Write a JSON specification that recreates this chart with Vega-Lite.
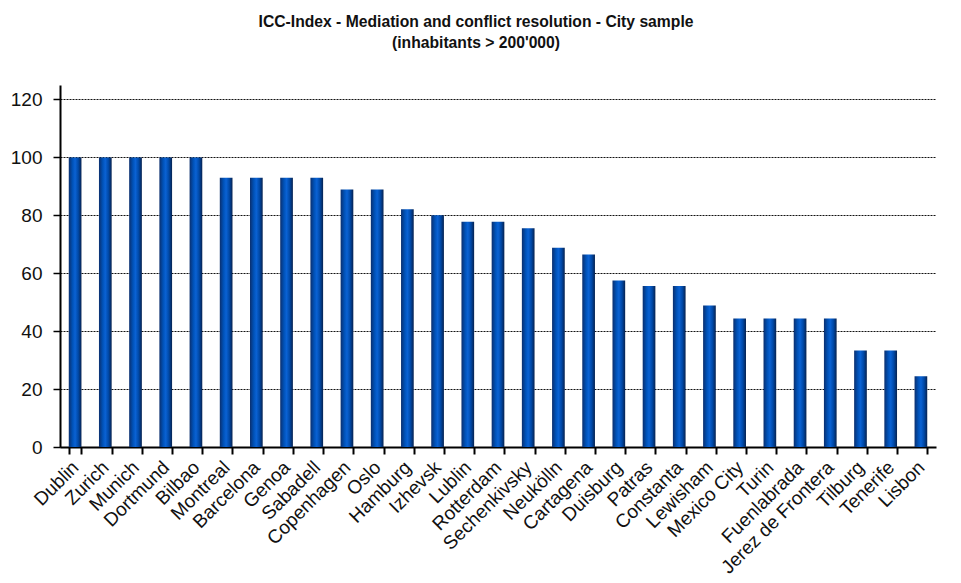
{
  "$schema": "https://vega.github.io/schema/vega-lite/v6.json",
  "autosize": "none",
  "width": 876,
  "height": 362,
  "padding": {"left": 60, "top": 85, "right": 25, "bottom": 136},
  "background": "white",
  "title": {
    "text": ["ICC-Index - Mediation and conflict resolution - City sample", "(inhabitants > 200'000)"],
    "font": "Liberation Sans",
    "fontSize": 15.7,
    "fontWeight": "bold",
    "color": "#111111",
    "anchor": "middle",
    "dx": -22,
    "offset": 33,
    "lineHeight": 21
  },
  "data": {
    "values": [
      {"city": "Dublin", "value": 100},
      {"city": "Zurich", "value": 100},
      {"city": "Munich", "value": 100},
      {"city": "Dortmund", "value": 100},
      {"city": "Bilbao", "value": 100},
      {"city": "Montreal", "value": 93},
      {"city": "Barcelona", "value": 93},
      {"city": "Genoa", "value": 93},
      {"city": "Sabadell", "value": 93},
      {"city": "Copenhagen", "value": 88.9},
      {"city": "Oslo", "value": 88.9},
      {"city": "Hamburg", "value": 82.1},
      {"city": "Izhevsk", "value": 80},
      {"city": "Lublin", "value": 77.8},
      {"city": "Rotterdam", "value": 77.8},
      {"city": "Sechenkivsky", "value": 75.5},
      {"city": "Neukölln", "value": 68.8},
      {"city": "Cartagena", "value": 66.5},
      {"city": "Duisburg", "value": 57.5},
      {"city": "Patras", "value": 55.6},
      {"city": "Constanta", "value": 55.6},
      {"city": "Lewisham", "value": 48.9},
      {"city": "Mexico City", "value": 44.4},
      {"city": "Turin", "value": 44.4},
      {"city": "Fuenlabrada", "value": 44.4},
      {"city": "Jerez de Frontera", "value": 44.4},
      {"city": "Tilburg", "value": 33.3},
      {"city": "Tenerife", "value": 33.3},
      {"city": "Lisbon", "value": 24.4}
    ]
  },
  "mark": {
    "type": "bar",
    "color": {
      "gradient": "linear",
      "x1": 0, "x2": 1, "y1": 0, "y2": 0,
      "stops": [
        {"offset": 0, "color": "#0b2f6e"},
        {"offset": 0.3, "color": "#0052b8"},
        {"offset": 0.5, "color": "#0a62d4"},
        {"offset": 0.75, "color": "#0048a6"},
        {"offset": 1, "color": "#07224f"}
      ]
    }
  },
  "encoding": {
    "x": {
      "field": "city",
      "type": "nominal",
      "sort": null,
      "title": null,
      "scale": {"paddingInner": 0.58, "paddingOuter": 0.29},
      "axis": {
        "labelAngle": -45,
        "labelAlign": "right",
        "labelBaseline": "middle",
        "labelFont": "Liberation Sans",
        "labelFontSize": 19,
        "labelColor": "#111111",
        "labelPadding": 10,
        "labelOverlap": false,
        "labelLimit": 300,
        "tickBand": "extent",
        "tickColor": "black",
        "tickSize": 7,
        "tickWidth": 2,
        "domainColor": "black",
        "domainWidth": 2
      }
    },
    "y": {
      "field": "value",
      "type": "quantitative",
      "title": null,
      "scale": {"domain": [0, 125], "nice": false},
      "axis": {
        "values": [0, 20, 40, 60, 80, 100, 120],
        "labelFont": "Liberation Sans",
        "labelFontSize": 19,
        "labelColor": "#111111",
        "labelPadding": 11,
        "tickColor": "black",
        "tickSize": 7,
        "tickWidth": 1.5,
        "domainColor": "black",
        "domainWidth": 2,
        "grid": true,
        "gridColor": "#111111",
        "gridDash": [2, 1],
        "gridWidth": 1
      }
    }
  },
  "config": {
    "view": {"stroke": null}
  }
}
